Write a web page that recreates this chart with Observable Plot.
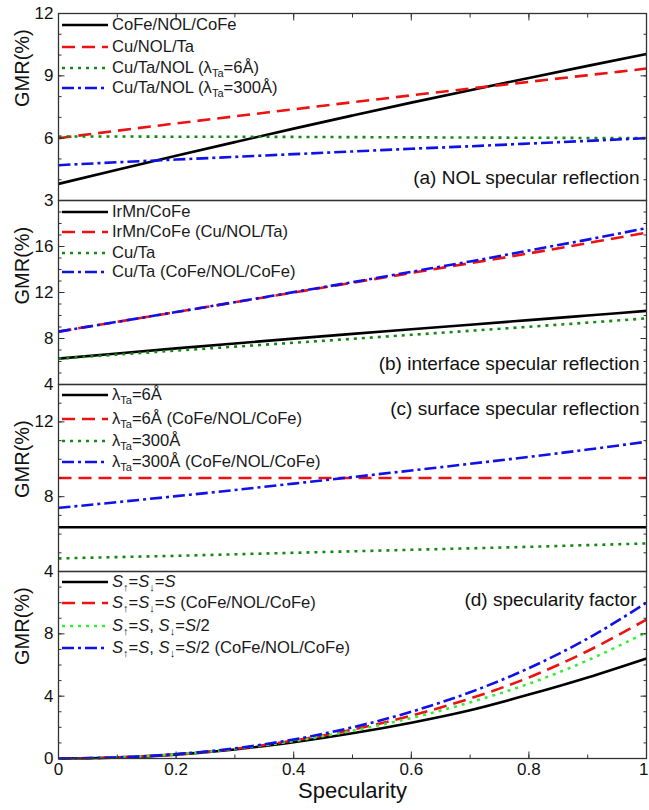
<!DOCTYPE html>
<html><head><meta charset="utf-8">
<script src="https://cdn.jsdelivr.net/npm/d3@7"></script>
<script src="https://cdn.jsdelivr.net/npm/@observablehq/plot@0.6"></script>
<style>
body{margin:0;background:#fff;}
#chart{position:relative;width:649px;height:810px;font-family:"Liberation Sans",Arial,sans-serif;overflow:hidden;}
.panel{position:absolute;left:0;}
.panel svg{overflow:visible;}
.row{position:absolute;left:62px;white-space:nowrap;display:flex;align-items:center;height:20px;font-size:16.6px;color:#1a1a1a;}
.row svg{margin-right:4px;flex:none;}
sub{font-size:11px;vertical-align:-4px;line-height:0;}
</style></head>
<body><div id="chart"></div>
<script>
// ---------- data ----------
const specularity = [0, 0.1, 0.2, 0.3, 0.4, 0.5, 0.6, 0.7, 0.8, 0.9, 1.0];

// (a) NOL specular reflection
const aCoFeNOLCoFe = [3.80, 4.48, 5.15, 5.81, 6.46, 7.09, 7.71, 8.31, 8.90, 9.48, 10.05];
const aCuNOLTa     = [6.00, 6.36, 6.71, 7.05, 7.39, 7.73, 8.06, 8.39, 8.71, 9.03, 9.35];
const aCuTaNOL6    = [6.08, 6.08, 6.07, 6.07, 6.06, 6.05, 6.04, 6.03, 6.02, 6.01, 6.00];
const aCuTaNOL300  = [4.70, 4.84, 4.97, 5.10, 5.23, 5.36, 5.49, 5.61, 5.74, 5.87, 6.00];

// (b) interface specular reflection
const bIrMnCoFe       = [6.25, 6.70, 7.14, 7.57, 7.99, 8.40, 8.80, 9.20, 9.60, 10.00, 10.40];
const bIrMnCoFeCuNOL  = [8.60, 9.45, 10.30, 11.15, 12.00, 12.85, 13.70, 14.55, 15.40, 16.30, 17.20];
const bCuTa           = [6.25, 6.60, 6.95, 7.29, 7.63, 7.97, 8.32, 8.67, 9.02, 9.38, 9.75];
const bCuTaCoFeNOL    = [8.60, 9.45, 10.30, 11.16, 12.03, 12.90, 13.80, 14.70, 15.65, 16.60, 17.60];

// (c) surface specular reflection
const cLam6        = [6.37, 6.37, 6.37, 6.37, 6.37, 6.37, 6.37, 6.37, 6.37, 6.37, 6.37];
const cLam6CoFe    = [9.00, 9.00, 9.00, 9.00, 9.00, 9.00, 9.00, 9.00, 9.00, 9.00, 9.00];
const cLam300      = [4.70, 4.77, 4.84, 4.92, 5.00, 5.08, 5.16, 5.24, 5.32, 5.41, 5.50];
const cLam300CoFe  = [7.40, 7.71, 8.03, 8.36, 8.70, 9.05, 9.40, 9.76, 10.13, 10.52, 10.94];

// (d) specularity factor
const dSame       = [0, 0.06, 0.25, 0.58, 1.05, 1.62, 2.30, 3.10, 4.10, 5.20, 6.42];
const dSameCoFe   = [0, 0.07, 0.27, 0.62, 1.15, 1.85, 2.75, 3.85, 5.20, 6.90, 8.92];
const dHalf       = [0, 0.07, 0.27, 0.62, 1.12, 1.78, 2.60, 3.60, 4.80, 6.30, 8.10];
const dHalfCoFe   = [0, 0.07, 0.28, 0.65, 1.22, 2.00, 3.00, 4.25, 5.80, 7.70, 10.00];

// labels
const xTickLabels = [0, 0.2, 0.4, 0.6, 0.8];
const xLastTick = [1];
const xMajorTicks = [0, 0.2, 0.4, 0.6, 0.8, 1];
const xMinorTicks = [0, 0.1, 0.2, 0.3, 0.4, 0.5, 0.6, 0.7, 0.8, 0.9, 1];
const yLabel = "GMR(%)";
const xLabel = "Specularity";
const panelTitles = ["(a) NOL specular reflection", "(b) interface specular reflection", "(c) surface specular reflection", "(d) specularity factor"];
const legendA = ["CoFe/NOL/CoFe", "Cu/NOL/Ta", "Cu/Ta/NOL (λ<sub>Ta</sub>=6Å)", "Cu/Ta/NOL (λ<sub>Ta</sub>=300Å)"];
const legendB = ["IrMn/CoFe", "IrMn/CoFe (Cu/NOL/Ta)", "Cu/Ta", "Cu/Ta (CoFe/NOL/CoFe)"];
const legendC = ["λ<sub>Ta</sub>=6Å", "λ<sub>Ta</sub>=6Å (CoFe/NOL/CoFe)", "λ<sub>Ta</sub>=300Å", "λ<sub>Ta</sub>=300Å (CoFe/NOL/CoFe)"];
const legendD = ["<i>S</i><sub>↑</sub>=<i>S</i><sub>↓</sub>=<i>S</i>", "<i>S</i><sub>↑</sub>=<i>S</i><sub>↓</sub>=<i>S</i> (CoFe/NOL/CoFe)", "<i>S</i><sub>↑</sub>=<i>S</i>, <i>S</i><sub>↓</sub>=<i>S</i>/2", "<i>S</i><sub>↑</sub>=<i>S</i>, <i>S</i><sub>↓</sub>=<i>S</i>/2 (CoFe/NOL/CoFe)"];

// ---------- styles ----------
const styles = [
  {color: "#000000", dash: null},
  {color: "#ee1111", dash: "13,7"},
  {color: "#138a13", dash: "3,5"},
  {color: "#1010e8", dash: "12,4,3,4"}
];
const limeGreen = "#33ee33";

const panels = [
  {top: 0, height: 200, mt: 13, mb: 0, domain: [3, 12], major: [3, 6, 9, 12], minor: d3.range(3, 13, 1),
   series: [aCoFeNOLCoFe, aCuNOLTa, aCuTaNOL6, aCuTaNOL300], legend: legendA, legendY: [25, 47, 68, 88],
   title: panelTitles[0], titleAnchor: "bottom-right", titleDx: -7, titleDy: -17, labelDy: 0, topAxis: true},
  {top: 200, height: 184, mt: 0, mb: 0, domain: [4, 20], major: [4, 8, 12, 16], minor: d3.range(4, 21, 1),
   series: [bIrMnCoFe, bIrMnCoFeCuNOL, bCuTa, bCuTaCoFeNOL], legend: legendB, legendY: [212, 232, 253, 272],
   title: panelTitles[1], titleAnchor: "bottom-right", titleDx: -7, titleDy: -15, labelDy: 12},
  {top: 384, height: 187, mt: 0, mb: 0, domain: [4, 14], major: [4, 8, 12], minor: d3.range(4, 15, 1),
   series: [cLam6, cLam6CoFe, cLam300, cLam300CoFe], legend: legendC, legendY: [395, 419, 441, 462],
   title: panelTitles[2], titleAnchor: "top-right", titleDx: -7, titleDy: 17, labelDy: 20},
  {top: 571, height: 239, mt: 0, mb: 52, domain: [0, 12], major: [0, 4, 8], minor: d3.range(0, 13, 1),
   series: [dSame, dSameCoFe, dHalf, dHalfCoFe], legend: legendD, legendY: [582, 603, 626, 648],
   title: panelTitles[3], titleAnchor: "top-right", titleDx: -10, titleDy: 21, labelDy: 0, bottomAxis: true, lime: true}
];

const chart = document.getElementById("chart");
const frameColor = "#333";

panels.forEach((p, pi) => {
  const marks = [];
  p.series.forEach((vals, si) => {
    const st = styles[si];
    const color = (p.lime && si === 2) ? limeGreen : st.color;
    marks.push(Plot.line(vals, {x: (d, i) => specularity[i], y: d => d, stroke: color, strokeWidth: 2.6,
      strokeDasharray: st.dash, strokeLinecap: "butt", curve: "monotone-x"}));
  });
  marks.push(Plot.frame({stroke: frameColor, strokeWidth: 1.3}));
  for (const anchor of ["left", "right"]) {
    marks.push(Plot.axisY(p.minor, {anchor, tickSize: -3.5, text: null, label: null, stroke: frameColor}));
    marks.push(Plot.axisY(p.major, {anchor, tickSize: -6.5, text: null, label: null, stroke: frameColor}));
  }
  marks.push(Plot.axisY(p.major, {anchor: "left", tickSize: 0, tickPadding: 5, label: null, fontSize: 17, fill: "#111"}));
  if (p.topAxis) {
    marks.push(Plot.axisX(xMinorTicks, {anchor: "top", tickSize: -3.5, text: null, label: null, stroke: frameColor}));
    marks.push(Plot.axisX(xMajorTicks, {anchor: "top", tickSize: -6.5, text: null, label: null, stroke: frameColor}));
  }
  if (p.bottomAxis) {
    marks.push(Plot.axisX(xMinorTicks, {anchor: "bottom", tickSize: -3.5, text: null, label: null, stroke: frameColor}));
    marks.push(Plot.axisX(xMajorTicks, {anchor: "bottom", tickSize: -6.5, text: null, label: null, stroke: frameColor}));
    marks.push(Plot.axisX(xTickLabels, {anchor: "bottom", tickSize: 0, tickPadding: 4, label: null, fontSize: 17, fill: "#111",
      tickFormat: d3.format("~g")}));
    marks.push(Plot.axisX(xLastTick, {anchor: "bottom", tickSize: 0, tickPadding: 4, label: null, fontSize: 17, fill: "#111",
      textAnchor: "end", dx: 2, tickFormat: d3.format("~g")}));
    marks.push(Plot.text([xLabel], {frameAnchor: "bottom", dy: 39, fontSize: 22, fill: "#111"}));
  }
  marks.push(Plot.text([yLabel], {frameAnchor: "left", dx: -36, dy: p.labelDy, rotate: -90, fontSize: 20, fill: "#111"}));
  marks.push(Plot.text([p.title], {frameAnchor: p.titleAnchor, dx: p.titleDx, dy: p.titleDy, fontSize: 19, textAnchor: "end", fill: "#111"}));

  const svg = Plot.plot({
    width: 649, height: p.height,
    marginLeft: 58, marginRight: 3, marginTop: p.mt, marginBottom: p.mb,
    x: {domain: [0, 1], axis: null},
    y: {domain: p.domain, axis: null},
    style: {fontFamily: '"Liberation Sans", Arial, sans-serif', fontSize: "17px", background: "transparent", overflow: "visible"},
    marks
  });
  const div = document.createElement("div");
  div.className = "panel";
  div.style.top = p.top + "px";
  div.appendChild(svg);
  chart.appendChild(div);

  // legend
  p.legend.forEach((txt, si) => {
    const st = styles[si];
    const color = (p.lime && si === 2) ? limeGreen : st.color;
    const row = document.createElement("div");
    row.className = "row";
    row.style.top = (p.legendY[si] - 10) + "px";
    row.innerHTML = `<svg width="46" height="8"><line x1="0" x2="46" y1="4" y2="4" stroke="${color}" stroke-width="2.6" ${st.dash ? `stroke-dasharray="${st.dash}"` : ""}/></svg><span>${txt}</span>`;
    chart.appendChild(row);
  });
});
</script>
</body></html>
